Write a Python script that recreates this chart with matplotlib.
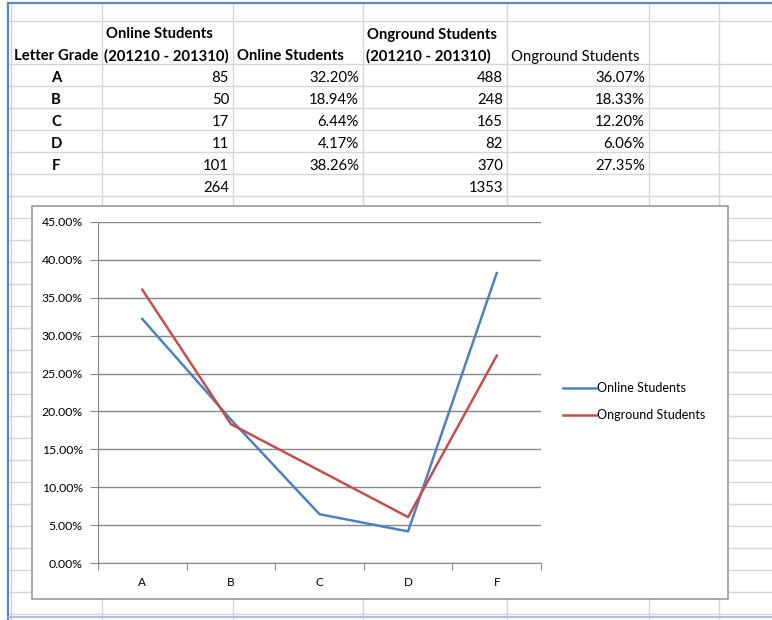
import matplotlib.pyplot as plt
from matplotlib.patches import Rectangle

plt.rcParams['font.family'] = ['Lato', 'DejaVu Sans']

# 表格和图表的数据
grades = ['A', 'B', 'C', 'D', 'F']
online_counts = [85, 50, 17, 11, 101]
online_pct = [32.20, 18.94, 6.44, 4.17, 38.26]
onground_counts = [488, 248, 165, 82, 370]
onground_pct = [36.07, 18.33, 12.20, 6.06, 27.35]
series_names = ['Online Students', 'Onground Students']
term = '(201210 - 201310)'

W, H = 772, 620
fig = plt.figure(figsize=(W / 100, H / 100), dpi=100)

# 工作表背景（像素坐标）
sheet = fig.add_axes([0, 0, 1, 1])
sheet.set_xlim(0, W)
sheet.set_ylim(H, 0)
sheet.axis('off')

grid_c = '#d6d6d6'
col_lines = [102, 233, 363, 507, 649, 719]
row_lines = [21] + list(range(64, H, 22))
for x in col_lines:
    sheet.plot([x, x], [3, H], color=grid_c, lw=1, zorder=1)
for y in row_lines:
    sheet.plot([8, W], [y, y], color=grid_c, lw=1, zorder=1)
sheet.plot([8, 8], [3, H], color='#5b85c4', lw=1.6, zorder=2)
sheet.plot([11, 11], [3, H], color='#c8d4e6', lw=1, zorder=2)
sheet.plot([8, W], [3, 3], color='#5b85c4', lw=1.6, zorder=2)
sheet.plot([8, W], [617, 617], color='#9fb6da', lw=1.2, zorder=2)

fs = 10.7
# 表头
sheet.text(56, 56.5, 'Letter Grade', ha='center', va='center', fontsize=fs, fontweight='bold')
sheet.text(106, 34.5, series_names[0], ha='left', va='center', fontsize=fs, fontweight='bold')
sheet.text(104, 56.5, term, ha='left', va='center', fontsize=fs, fontweight='bold')
sheet.text(237, 56.5, series_names[0], ha='left', va='center', fontsize=fs, fontweight='bold')
sheet.text(367, 34.5, series_names[1], ha='left', va='center', fontsize=fs, fontweight='bold')
sheet.text(366, 56.5, term, ha='left', va='center', fontsize=fs, fontweight='bold')
sheet.text(511, 56.5, series_names[1], ha='left', va='center', fontsize=fs)

for i, g in enumerate(grades):
    y = 64 + 22 * i + 14
    sheet.text(56, y, g, ha='center', va='center', fontsize=fs, fontweight='bold')
    sheet.text(229, y, '%d' % online_counts[i], ha='right', va='center', fontsize=fs)
    sheet.text(359, y, '%.2f%%' % online_pct[i], ha='right', va='center', fontsize=fs)
    sheet.text(503, y, '%d' % onground_counts[i], ha='right', va='center', fontsize=fs)
    sheet.text(645, y, '%.2f%%' % onground_pct[i], ha='right', va='center', fontsize=fs)
y = 64 + 22 * len(grades) + 14
sheet.text(229, y, '%d' % sum(online_counts), ha='right', va='center', fontsize=fs)
sheet.text(503, y, '%d' % sum(onground_counts), ha='right', va='center', fontsize=fs)

# 图表区域
sheet.add_patch(Rectangle((32, 206), 696, 393, facecolor='white', edgecolor='#9a9a9a', lw=1.2, zorder=5))

ax = fig.add_axes([98 / W, 1 - 563 / H, 443 / W, (563 - 222) / H], zorder=10)
ax.patch.set_alpha(0)
xs = range(len(grades))
l1, = ax.plot(xs, [v / 100 for v in online_pct], color='#4f81bd', lw=1.8, label=series_names[0])
l2, = ax.plot(xs, [v / 100 for v in onground_pct], color='#c0504d', lw=1.8, label=series_names[1])

ax.set_ylim(0, 0.45)
ax.set_xlim(-0.5, len(grades) - 0.5)
ax.set_yticks([i * 0.05 for i in range(10)])
ax.set_yticklabels(['%.2f%%' % (i * 5) for i in range(10)])
ax.yaxis.grid(True, color='#878787', lw=1)
ax.set_axisbelow(True)
ax.set_xticks([i - 0.5 for i in range(len(grades) + 1)])
ax.set_xticklabels([])
ax.set_xticks(list(xs), minor=True)
ax.set_xticklabels(grades, minor=True)
ax.tick_params(axis='x', which='major', length=5, color='#878787', direction='out')
ax.tick_params(axis='x', which='minor', length=0, labelsize=8.5, pad=10)
ax.tick_params(axis='y', length=6, color='#878787', labelsize=8.8, pad=5)
for s in ['top', 'right']:
    ax.spines[s].set_visible(False)
for s in ['left', 'bottom']:
    ax.spines[s].set_color('#878787')

fig.legend(handles=[l1, l2], loc='center left', bbox_to_anchor=(563 / W, 1 - 401.5 / H),
           frameon=False, fontsize=9, handlelength=2.6, handletextpad=0.1,
           labelspacing=1.2, borderpad=0, borderaxespad=0)

plt.savefig('out.png', dpi=100)
